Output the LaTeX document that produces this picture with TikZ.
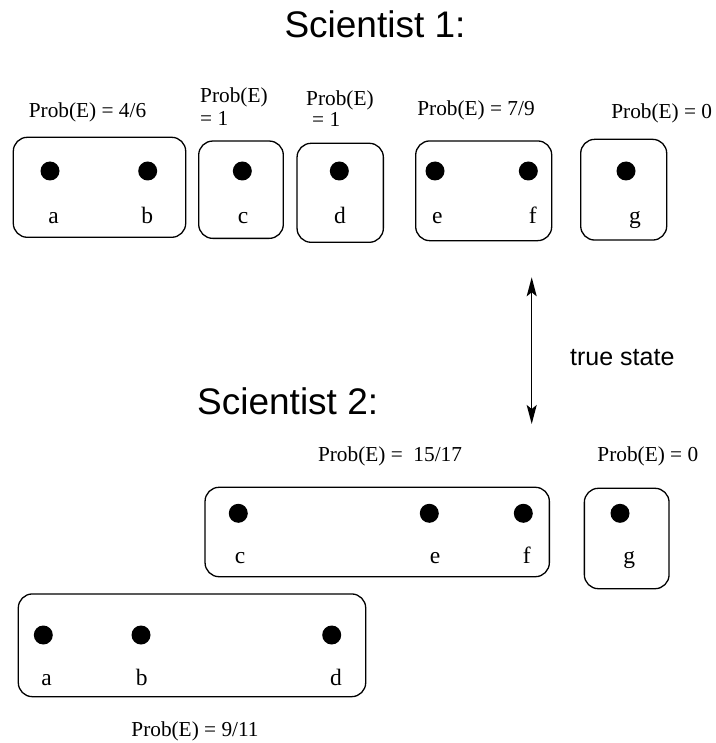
\documentclass[tikz,border=0pt]{standalone}
\usepackage{fontspec}
\setmainfont{Liberation Serif}
\setsansfont{Liberation Sans}
\usetikzlibrary{arrows.meta}
\begin{document}
\begin{tikzpicture}[x=1pt,y=-1pt,
  box/.style={draw, line width=1.3pt, rounded corners=14pt, inner sep=0pt},
  dot/.style={circle, fill, inner sep=0pt, minimum size=19pt},
  lbl/.style={anchor=base, font=\fontsize{23.5}{28}\selectfont, inner sep=0pt},
  prob/.style={anchor=base, font=\fontsize{21.3}{25}\selectfont, inner sep=0pt},
  probl/.style={anchor=base west, font=\fontsize{21.3}{25}\selectfont, inner sep=0pt},
  title/.style={anchor=base, font=\sffamily\fontsize{37}{44}\selectfont, inner sep=0pt},
  titlel/.style={anchor=base west, font=\sffamily\fontsize{37}{44}\selectfont, inner sep=0pt},
  note/.style={anchor=base west, font=\sffamily\fontsize{25}{30}\selectfont, inner sep=0pt},
  dbl/.style={line width=1.5pt, {Stealth[length=19pt,width=10pt,inset=4pt]}-{Stealth[length=19pt,width=10pt,inset=4pt]}}
]
\useasboundingbox[fill=white] (0,0) rectangle (715,743);

% Titles
\node[title] (t1) at (375,38) {Scientist 1:};
\node[titlel] (t2) at (197,414) {Scientist 2:};

% ---------- Scientist 1 ----------
\node[box, minimum width=172.4pt, minimum height=100pt] (Aab) at (99.5,187.3) {};
\node[box, minimum width=84.6pt, minimum height=97.3pt] (Ac) at (241,189.7) {};
\node[box, minimum width=86.3pt, minimum height=99pt] (Ad) at (340.2,192.8) {};
\node[box, minimum width=136pt, minimum height=99.7pt] (Aef) at (483.7,190.8) {};
\node[box, minimum width=86pt, minimum height=100.7pt] (Ag) at (623.7,189.7) {};

\node[dot] (pa1) at (50,171) {};
\node[dot] (pb1) at (147.7,171) {};
\node[dot] (pc1) at (242.3,171) {};
\node[dot] (pd1) at (339.3,171) {};
\node[dot] (pe1) at (435,171) {};
\node[dot] (pf1) at (528.3,171) {};
\node[dot] (pg1) at (626,171) {};

\node[lbl] (la1) at (53.7,223.3) {a};
\node[lbl] (lb1) at (147.3,223.3) {b};
\node[lbl] (lc1) at (243,223.3) {c};
\node[lbl] (ld1) at (340,223.3) {d};
\node[lbl] (le1) at (437.3,223.3) {e};
\node[lbl] (lf1) at (532.7,223.3) {f};
\node[lbl] (lg1) at (635,223.3) {g};

\node[prob] (qab) at (87.5,117.3) {Prob(E) = 4/6};
\node[probl] (qc) at (200,102.7) {Prob(E)};
\node[probl] (qc2) at (200,125.5) {= 1};
\node[probl] (qd) at (306,106) {Prob(E)};
\node[probl] (qd2) at (312,127) {= 1};
\node[prob] (qef) at (476,116) {Prob(E) = 7/9};
\node[prob] (qg) at (661.7,118.3) {Prob(E) = 0};

% ---------- arrow ----------
\coordinate (ttop) at (531.7,277.3);
\coordinate (tbot) at (531.7,424);
\draw[dbl] (ttop) -- (tbot);
\node[note] (ts) at (570,365) {true state};

% ---------- Scientist 2 ----------
\node[box, minimum width=344.3pt, minimum height=89.4pt] (Bcef) at (377.2,532) {};
\node[box, minimum width=84.7pt, minimum height=100.4pt] (Bg) at (626.7,538.5) {};
\node[box, minimum width=347.4pt, minimum height=102.7pt] (Babd) at (192,645.3) {};

\node[dot] (pc2) at (238.3,513.3) {};
\node[dot] (pe2) at (429.3,513.3) {};
\node[dot] (pf2) at (523.3,513.3) {};
\node[dot] (pg2) at (620,513.3) {};
\node[dot] (pa2) at (43.3,635) {};
\node[dot] (pb2) at (141,635) {};
\node[dot] (pd2) at (331.7,635) {};

\node[lbl] (lc2) at (240,563.3) {c};
\node[lbl] (le2) at (435,563.3) {e};
\node[lbl] (lf2) at (526.7,563.3) {f};
\node[lbl] (lg2) at (629.3,563.3) {g};
\node[lbl] (la2) at (46.7,685) {a};
\node[lbl] (lb2) at (141.7,685) {b};
\node[lbl] (ld2) at (336,685) {d};

\node[prob] (qcef) at (390,461.7) {Prob(E) =\ \ 15/17};
\node[prob] (qg2) at (647.8,461.7) {Prob(E) = 0};
\node[prob] (qabd) at (195,736.5) {Prob(E) = 9/11};
\end{tikzpicture}
\end{document}
